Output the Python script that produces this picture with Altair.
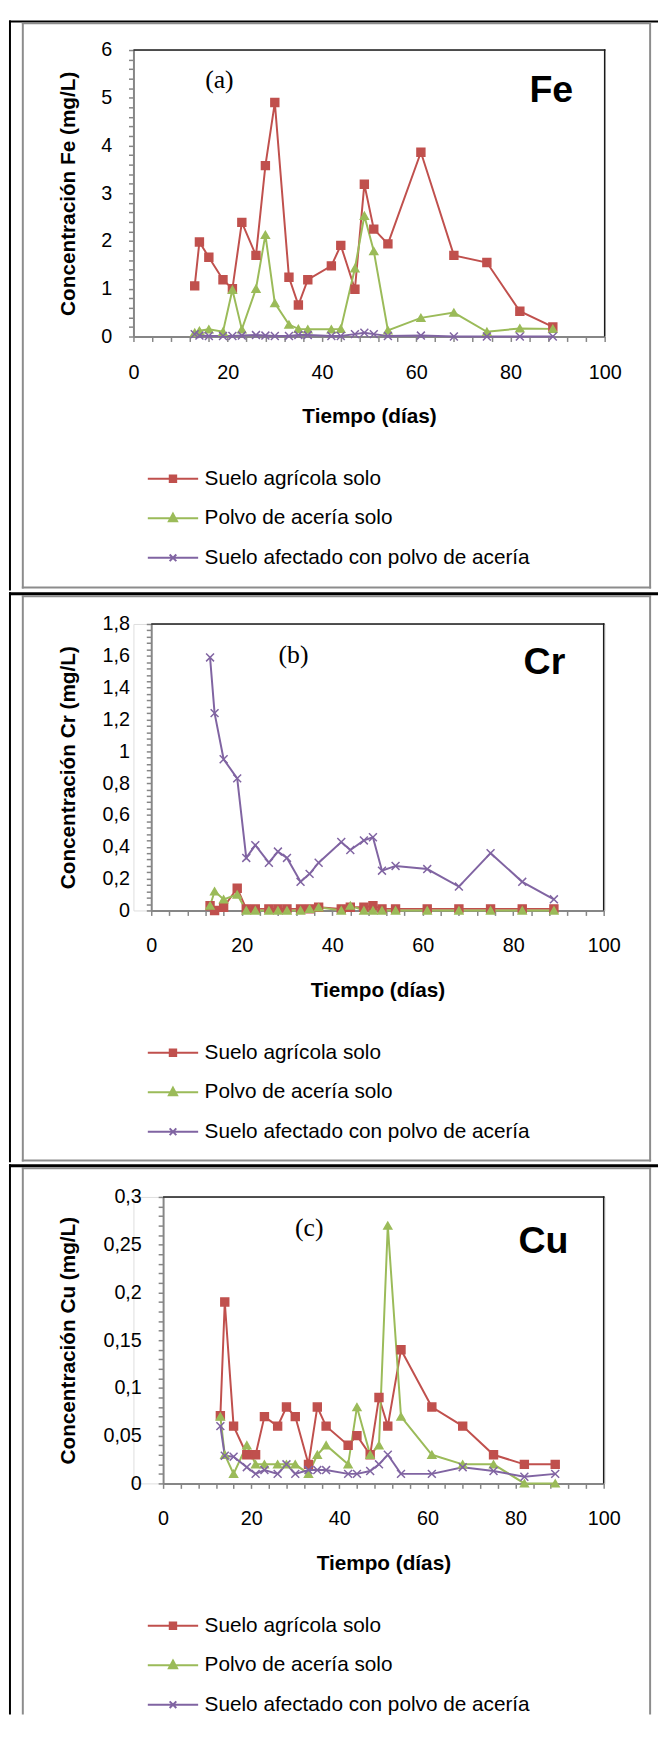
import altair as alt
import pandas as pd

# ------------------------------------------------------------------ data
dias = [13, 14, 16, 19, 21, 23, 26, 28, 30, 33, 35, 37, 42, 44, 47, 49, 51, 54, 61, 68, 75, 82, 89]
series = ["Suelo agrícola solo", "Polvo de acería solo", "Suelo afectado con polvo de acería"]

fe_suelo = [1.06, 1.98, 1.66, 1.19, 1.00, 2.39, 1.70, 3.58, 4.90, 1.24, 0.66, 1.19,
            1.48, 1.91, 0.99, 3.19, 2.25, 1.94, 3.86, 1.70, 1.55, 0.53, 0.20]
fe_polvo = [0.08, 0.12, 0.15, 0.10, 0.98, 0.15, 1.00, 2.13, 0.70, 0.25, 0.16, 0.15,
            0.15, 0.16, 1.43, 2.53, 1.79, 0.13, 0.39, 0.50, 0.10, 0.17, 0.16]
fe_afectado = [0.05, 0.02, 0.01, 0.01, 0.01, 0.02, 0.03, 0.02, 0.01, 0.01, 0.03, 0.03,
               0.01, 0.01, 0.05, 0.08, 0.05, 0.01, 0.02, 0.00, 0.00, 0.00, 0.00]

cr_suelo = [0.03, 0.00, 0.02, 0.14, 0.01, 0.01, 0.01, 0.01, 0.01, 0.01, 0.01, 0.02,
            0.01, 0.02, 0.02, 0.03, 0.01, 0.01, 0.01, 0.01, 0.01, 0.01, 0.01]
cr_polvo = [0.03, 0.12, 0.07, 0.10, 0.00, 0.00, 0.00, 0.00, 0.00, 0.00, 0.01, 0.02,
            0.00, 0.03, 0.00, 0.00, 0.00, 0.00, 0.00, 0.00, 0.00, 0.00, 0.00]
cr_afectado = [1.59, 1.24, 0.95, 0.83, 0.33, 0.41, 0.30, 0.37, 0.33, 0.18, 0.23, 0.30,
               0.43, 0.38, 0.44, 0.46, 0.25, 0.28, 0.26, 0.15, 0.36, 0.18, 0.07]

cu_suelo = [0.071, 0.19, 0.06, 0.03, 0.03, 0.07, 0.06, 0.08, 0.07, 0.02, 0.08, 0.06,
            0.04, 0.05, 0.03, 0.09, 0.06, 0.14, 0.08, 0.06, 0.03, 0.02, 0.02]
cu_polvo = [0.07, 0.03, 0.01, 0.04, 0.02, 0.02, 0.02, 0.02, 0.02, 0.01, 0.03, 0.04,
            0.02, 0.08, 0.03, 0.04, 0.27, 0.07, 0.03, 0.02, 0.02, 0.00, 0.00]
cu_afectado = [0.06, 0.029, 0.028, 0.017, 0.01, 0.014, 0.01, 0.02, 0.01, 0.014, 0.014, 0.014,
               0.01, 0.01, 0.013, 0.02, 0.03, 0.01, 0.01, 0.017, 0.013, 0.007, 0.01]

elementos = ["Fe", "Cr", "Cu"]
letras = ["(a)", "(b)", "(c)"]
y_titles = ["Concentración Fe (mg/L)", "Concentración Cr (mg/L)", "Concentración Cu (mg/L)"]
y_max = [6, 1.8, 0.3]
y_major = [1, 0.2, 0.05]
y_minor = [0.2, 0.04, 0.01]
x_title = "Tiempo (días)"
x_max, x_major, x_minor = 100, 20, 4

colors = ["#C0504D", "#9BBB59", "#8064A2"]

# ------------------------------------------------------------------ style / layout
FONT = "Liberation Sans"
SERIF = "Liberation Serif"
AXIS_GRAY = "#868686"
BOX_GRAY = "#8c8c8c"
X0 = 134          # page x of the common view origin
VW, VH = 477, 290

XPATH = "M-1,-1L1,1M-1,1L1,-1"
LEG_PATHS = [
    "M-1.96,0H1.96M-0.25,-0.25H0.25V0.25H-0.25Z",
    "M-1.96,0H1.96M0,-0.36L0.32,0.24H-0.32Z",
    "M-1.96,0H1.96M-0.26,-0.26L0.26,0.26M-0.26,0.26L0.26,-0.26",
]

panels = [
    dict(top=9, black_h=2, bottom=586, gray_bottom=584, view_top=39, r0=0, r1=477,
         letter_xy=(87, 30), elem_xy=(423, 42)),
    dict(top=586, black_h=3, bottom=1163, gray_bottom=1162, view_top=618, r0=18, r1=476,
         letter_xy=(162, 31), elem_xy=(416, 40)),
    dict(top=1163, black_h=3, bottom=1720, gray_bottom=None, view_top=1196, r0=30, r1=476,
         letter_xy=(178, 32), elem_xy=(415, 46)),
]

one = pd.DataFrame({"k": [0]})


def long_df(a, b, c):
    rows = []
    for name, vals in zip(series, (a, b, c)):
        for d, v in zip(dias, vals):
            rows.append({"dia": d, "conc": v, "serie": name})
    return pd.DataFrame(rows)


def rect(px1, px2, py1, py2, color, vt):
    return alt.Chart(one).mark_rect(color=color, opacity=1).encode(
        x=alt.value(px1 - X0), x2=alt.value(px2 - X0),
        y=alt.value(py1 - vt), y2=alt.value(py2 - vt))


def rel_rect(x1, x2, y1, y2, color):
    return alt.Chart(one).mark_rect(color=color, opacity=1).encode(
        x=alt.value(x1), x2=alt.value(x2), y=alt.value(y1), y2=alt.value(y2))


def panel(i, df):
    p = panels[i]
    vt = p["view_top"]
    layers = []
    # table lines (black) and chart-area border (gray)
    bt = p["top"] + p["black_h"]
    layers.append(rect(8, 665, p["top"], bt, "black", vt))
    layers.append(rect(8, 10, p["top"], p["bottom"], "black", vt))
    gb = p["gray_bottom"] if p["gray_bottom"] is not None else p["bottom"]
    layers.append(rect(21, 658, bt, bt + 2, BOX_GRAY, vt))
    layers.append(rect(21, 23, bt, gb, BOX_GRAY, vt))
    layers.append(rect(656, 658, bt, gb, BOX_GRAY, vt))
    if p["gray_bottom"] is not None:
        layers.append(rect(21, 658, gb - 2, gb, BOX_GRAY, vt))
    # plot-area border: top and right edges
    layers.append(rel_rect(p["r0"], p["r1"] + 0.75, -0.75, 0.75, "#1a1a1a"))
    layers.append(rel_rect(p["r1"] - 0.75, p["r1"] + 0.75, -0.75, VH, "#1a1a1a"))

    n_y = int(round(y_max[i] / y_minor[i]))
    yvals = [round(k * y_minor[i], 6) for k in range(n_y + 1)]
    xvals = list(range(0, x_max + 1, x_minor))
    maj = y_major[i]
    y_expr = (f"abs(datum.value/{maj} - round(datum.value/{maj})) < 1e-6 ? "
              "replace(format(datum.value, '~g'), '.', ',') : ''")
    axis_px = X0 + p["r0"]

    X = alt.X("dia:Q",
              scale=alt.Scale(domain=[0, x_max], range=[p["r0"], p["r1"]], nice=False, zero=False),
              axis=alt.Axis(values=xvals, labelExpr=f"datum.value % {x_major} == 0 ? datum.label : ''",
                            title=x_title, titleFont=FONT, titleFontSize=21, titleFontWeight="bold",
                            titleColor="black", titleY=81, titleBaseline="middle",
                            labelFont=FONT, labelFontSize=20, labelColor="black",
                            labelPadding=31, labelBaseline="middle", labelFlush=False,
                            labelOverlap=False, tickSize=5, tickColor=AXIS_GRAY, tickWidth=1.5,
                            domainColor=AXIS_GRAY, domainWidth=2, grid=False))
    Y = alt.Y("conc:Q",
              scale=alt.Scale(domain=[0, y_max[i]], nice=False, zero=True),
              axis=alt.Axis(values=yvals, labelExpr=y_expr, offset=-p["r0"],
                            title=y_titles[i], titleFont=FONT, titleFontSize=21, titleFontWeight="bold",
                            titleColor="black", titleX=68 - axis_px, titleY=VH / 2, titleAngle=270,
                            titleBaseline="middle", titleAlign="center",
                            labelFont=FONT, labelFontSize=20, labelColor="black",
                            labelPadding=17, labelFlush=False, labelOverlap=False,
                            tickSize=5, tickColor=AXIS_GRAY, tickWidth=1.5,
                            domainColor=AXIS_GRAY, domainWidth=2, grid=False))

    cscale = alt.Scale(domain=series, range=colors)
    lines = alt.Chart(df).mark_line(strokeWidth=2).encode(
        x=X, y=Y, color=alt.Color("serie:N", scale=cscale, legend=None))
    pts = alt.Chart(df).mark_point(filled=True, opacity=1, size=64, strokeWidth=1.5).encode(
        x=X, y=Y,
        color=alt.Color("serie:N", scale=cscale, legend=None),
        stroke=alt.Stroke("serie:N", scale=cscale, legend=None),
        shape=alt.Shape("serie:N", scale=alt.Scale(domain=series, range=["square", "triangle-up", XPATH]),
                        legend=None))
    layers += [lines, pts]

    leg = alt.Legend(orient="none", legendX=26, legendY=420, direction="vertical", title=None,
                     labelFont=FONT, labelFontSize=21, labelColor="black", labelOffset=18,
                     labelLimit=600, rowPadding=16, symbolSize=676, symbolStrokeWidth=2,
                     padding=0)
    legend_layer = alt.Chart(df).mark_point(filled=True, opacity=1, size=676).encode(
        fill=alt.Fill("serie:N", scale=alt.Scale(domain=series, range=colors), legend=leg),
        stroke=alt.Stroke("serie:N", scale=alt.Scale(domain=series, range=colors), legend=leg),
        shape=alt.Shape("serie:N", scale=alt.Scale(domain=series, range=LEG_PATHS), legend=leg),
    ).transform_filter("false")
    layers.append(legend_layer)

    lx, ly = p["letter_xy"]
    ex, ey = p["elem_xy"]
    layers.append(alt.Chart(one).mark_text(font=SERIF, fontSize=26, color="black", align="center",
                                           baseline="middle").encode(
        x=alt.value(lx), y=alt.value(ly), text=alt.value(letras[i])))
    layers.append(alt.Chart(one).mark_text(font=FONT, fontSize=38, fontWeight="bold", color="black",
                                           align="center", baseline="middle").encode(
        x=alt.value(ex), y=alt.value(ey), text=alt.value(elementos[i])))

    return alt.layer(*layers).resolve_scale(
        color="independent", fill="independent", stroke="independent", shape="independent"
    ).properties(width=VW, height=VH)


pa = panel(0, long_df(fe_suelo, fe_polvo, fe_afectado))
pb = panel(1, long_df(cr_suelo, cr_polvo, cr_afectado))
pc = panel(2, long_df(cu_suelo, cu_polvo, cu_afectado))

chart = alt.vconcat(pa, pb, pc, spacing=0).properties(
    padding={"left": 0, "top": 1, "right": 0, "bottom": 0}
).configure_view(strokeWidth=0).configure(background="white", font=FONT)

chart.save("out.html", embed_options={"renderer": "svg", "actions": False})
